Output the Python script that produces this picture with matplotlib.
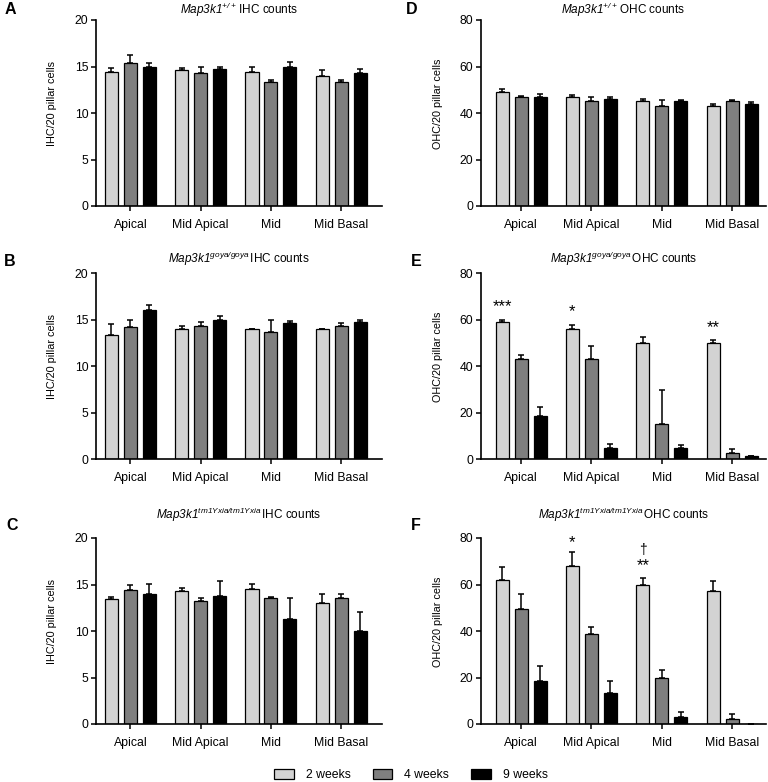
import matplotlib
matplotlib.use("Agg")
import matplotlib.pyplot as plt
import numpy as np
from matplotlib.patches import Patch

plt.rcParams["font.family"] = ["Liberation Sans", "DejaVu Sans"]
plt.rcParams["mathtext.fontset"] = "custom"
# the only mathtext used is the italic gene name, so all math is italic
plt.rcParams["mathtext.rm"] = "Liberation Sans:italic"
plt.rcParams["mathtext.it"] = "Liberation Sans:italic"

regions = ["Apical", "Mid Apical", "Mid", "Mid Basal"]
weeks = ["2 weeks", "4 weeks", "9 weeks"]
colors = ["#d3d3d3", "#7f7f7f", "#000000"]

# mean values, rows = 2/4/9 weeks, cols = regions
ihc_wt = [[14.4, 14.6, 14.4, 14.0], [15.4, 14.3, 13.3, 13.3], [15.0, 14.7, 15.0, 14.3]]
ihc_wt_err = [[0.4, 0.2, 0.5, 0.6], [0.8, 0.7, 0.3, 0.3], [0.4, 0.3, 0.5, 0.4]]
ihc_goya = [[13.3, 14.0, 14.0, 14.0], [14.2, 14.3, 13.7, 14.3], [16.0, 15.0, 14.6, 14.7]]
ihc_goya_err = [[1.2, 0.3, 0.0, 0.0], [0.7, 0.4, 1.3, 0.3], [0.6, 0.4, 0.2, 0.3]]
ihc_tm = [[13.4, 14.3, 14.5, 13.0], [14.4, 13.2, 13.5, 13.5], [14.0, 13.8, 11.3, 10.0]]
ihc_tm_err = [[0.3, 0.3, 0.6, 1.0], [0.5, 0.3, 0.2, 0.5], [1.1, 1.6, 2.2, 2.0]]

ohc_wt = [[49.0, 47.0, 45.0, 43.0], [47.0, 45.0, 43.0, 45.0], [47.0, 46.0, 45.0, 44.0]]
ohc_wt_err = [[1.2, 0.7, 1.2, 0.8], [0.3, 1.8, 2.7, 0.4], [1.2, 0.8, 0.7, 0.9]]
ohc_goya = [[59.0, 56.0, 50.0, 50.0], [43.1, 42.9, 15.0, 2.4], [18.6, 4.9, 4.7, 1.1]]
ohc_goya_err = [[0.7, 1.5, 2.4, 1.1], [1.7, 5.5, 14.6, 2.0], [3.8, 1.4, 1.5, 0.4]]
ohc_tm = [[62.0, 68.1, 60.0, 57.0], [49.6, 38.9, 20.0, 2.3], [18.6, 13.2, 3.2, 0.0]]
ohc_tm_err = [[5.4, 5.7, 2.6, 4.6], [6.4, 2.9, 3.3, 2.0], [6.2, 5.2, 2.1, 0.0]]

# significance marks: (region index, y value, text)
marks_e = [(0, 65.5, "***"), (1, 63.5, "*"), (3, 56.5, "**")]
marks_f = [(1, 78.0, "*"), (2, 75.0, "\u2020"), (2, 68.0, "**")]

W, H = 768, 782
fig = plt.figure(figsize=(W / 100, H / 100), dpi=100)


def px_axes(x0, x1, ytop, ybot):
    return fig.add_axes([x0 / W, 1 - ybot / H, (x1 - x0) / W, (ybot - ytop) / H])


def draw(ax, means, errs, ymax, ystep, ylabel, title, pad, xlim, marks=()):
    x = np.arange(len(regions))
    offs = [-0.27, 0.0, 0.27]
    for i in range(3):
        m = np.array(means[i])
        e = np.array(errs[i])
        ax.bar(x + offs[i], m, width=0.185, color=colors[i], edgecolor="black",
               linewidth=0.9, zorder=2)
        ax.errorbar(x + offs[i], m, yerr=[np.zeros_like(e), e], fmt="none",
                    ecolor="black", elinewidth=1.1, capsize=2.2, capthick=1.1, zorder=1)
    for gi, yv, txt in marks:
        fs = 12 if "*" in txt else 10
        ax.text(x[gi] + offs[0], yv, txt, ha="center", va="center", fontsize=fs)
    ax.set_xlim(*xlim)
    ax.set_ylim(0, ymax)
    ax.set_yticks(np.arange(0, ymax + 0.1, ystep))
    ax.set_xticks(x)
    ax.set_xticklabels(regions)
    for s in ["top", "right"]:
        ax.spines[s].set_visible(False)
    for s in ["left", "bottom"]:
        ax.spines[s].set_linewidth(1.2)
    ax.tick_params(axis="both", labelsize=8.8, width=1.1, length=3.5, pad=2)
    ax.tick_params(axis="x", pad=6)
    ax.set_ylabel(ylabel, fontsize=7.8)
    ax.set_title(title, fontsize=8.5, pad=pad)


left = (96, 382)
right = (481, 766)
rows = [(20, 206), (273, 459), (538, 724)]
xl_left = (-0.49, 3.58)
xl_right = (-0.57, 3.48)

axA = px_axes(*left, *rows[0])
draw(axA, ihc_wt, ihc_wt_err, 20, 5, "IHC/20 pillar cells",
     r"$Map3k1^{+/+}\,$IHC counts", 4, xl_left)
axB = px_axes(*left, *rows[1])
draw(axB, ihc_goya, ihc_goya_err, 20, 5, "IHC/20 pillar cells",
     r"$Map3k1^{goya/goya}\,$IHC counts", 7, xl_left)
axC = px_axes(*left, *rows[2])
draw(axC, ihc_tm, ihc_tm_err, 20, 5, "IHC/20 pillar cells",
     r"$Map3k1^{tm1Yxia/tm1Yxia}\,$IHC counts", 14, xl_left)
axD = px_axes(*right, *rows[0])
draw(axD, ohc_wt, ohc_wt_err, 80, 20, "OHC/20 pillar cells",
     r"$Map3k1^{+/+}\,$OHC counts", 4, xl_right)
axE = px_axes(*right, *rows[1])
draw(axE, ohc_goya, ohc_goya_err, 80, 20, "OHC/20 pillar cells",
     r"$Map3k1^{goya/goya}\,$OHC counts", 7, xl_right, marks_e)
axF = px_axes(*right, *rows[2])
draw(axF, ohc_tm, ohc_tm_err, 80, 20, "OHC/20 pillar cells",
     r"$Map3k1^{tm1Yxia/tm1Yxia}\,$OHC counts", 14, xl_right, marks_f)

for ax in [axA, axB, axC, axD, axE, axF]:
    ax.yaxis.set_label_coords(-0.135, 0.55)

letters = [("A", 10, 10), ("B", 10, 261), ("C", 12, 526),
           ("D", 412, 10), ("E", 416, 262), ("F", 416, 525)]
for s, px, py in letters:
    fig.text(px / W, 1 - py / H, s, fontsize=11.5, fontweight="bold",
             ha="center", va="center")

handles = [Patch(facecolor=c, edgecolor="black", linewidth=0.9) for c in colors]
fig.legend(handles, weeks, loc="center", bbox_to_anchor=(411 / W, 1 - 775 / H),
           ncol=3, frameon=False, fontsize=8.8, handlelength=1.6, handleheight=0.9,
           columnspacing=1.8, handletextpad=1.0)

fig.savefig("out.png", dpi=100)
